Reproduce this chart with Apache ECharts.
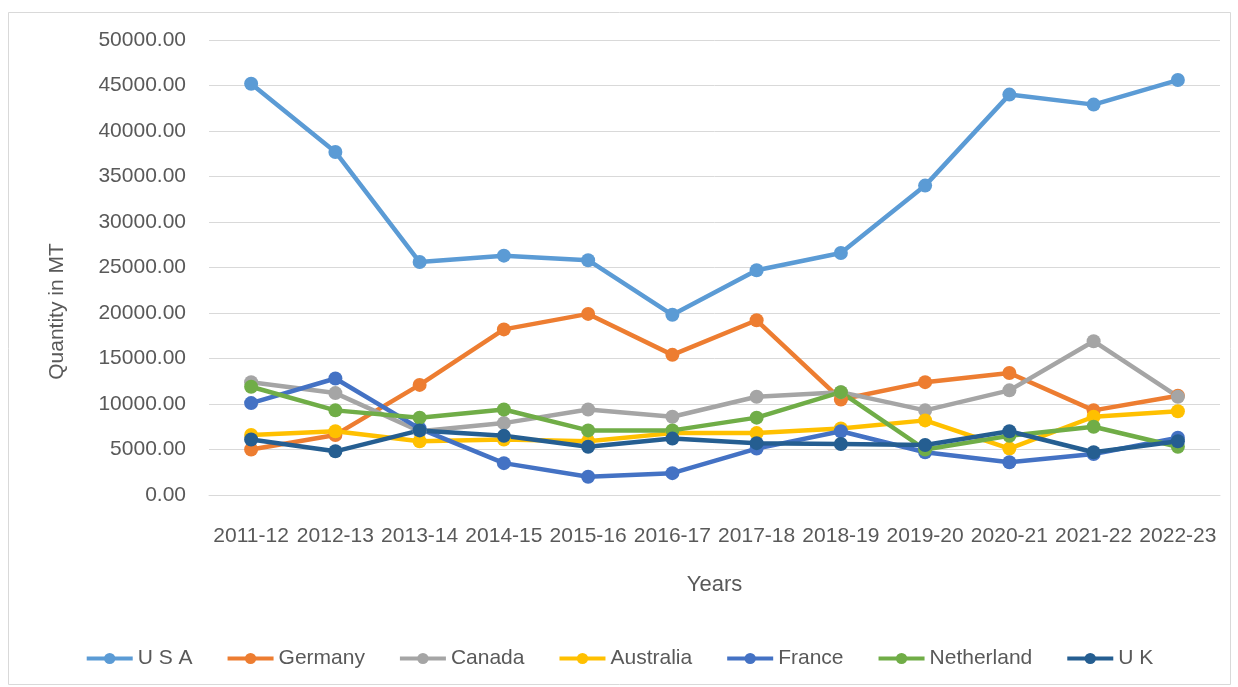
<!DOCTYPE html>
<html>
<head>
<meta charset="utf-8">
<script src="https://cdn.jsdelivr.net/npm/echarts@6/dist/echarts.min.js"></script>
<style>html,body{margin:0;padding:0;background:#fff;}#c{width:1238px;height:687px;}</style>
</head>
<body>
<div id="c"></div>
<script>
const categories = ['2011-12','2012-13','2013-14','2014-15','2015-16','2016-17','2017-18','2018-19','2019-20','2020-21','2021-22','2022-23'];
const usa        = [45200, 37700, 25600, 26300, 25800, 19800, 24700, 26600, 34000, 44000, 42900, 45600];
const germany    = [5000, 6600, 12100, 18200, 19900, 15400, 19200, 10500, 12400, 13400, 9300, 10900];
const canada     = [12400, 11200, 7000, 7900, 9400, 8600, 10800, 11300, 9300, 11500, 16900, 10800];
const australia  = [6600, 7000, 5900, 6100, 5900, 6800, 6800, 7300, 8200, 5100, 8600, 9200];
const france     = [10100, 12800, 7300, 3500, 2000, 2400, 5100, 7000, 4700, 3600, 4500, 6300];
const netherland = [11900, 9300, 8500, 9400, 7100, 7100, 8500, 11300, 5000, 6500, 7500, 5300];
const uk         = [6100, 4800, 7100, 6500, 5300, 6200, 5700, 5600, 5500, 7000, 4700, 5900];
const yTicks = [0, 5000, 10000, 15000, 20000, 25000, 30000, 35000, 40000, 45000, 50000];

const seriesDefs = [
  ['U S A', usa, '#5B9BD5'],
  ['Germany', germany, '#ED7D31'],
  ['Canada', canada, '#A5A5A5'],
  ['Australia', australia, '#FFC000'],
  ['France', france, '#4472C4'],
  ['Netherland', netherland, '#70AD47'],
  ['U K', uk, '#255E91']
];
const font = 'Liberation Sans';
const txt = '#595959';
const chart = echarts.init(document.getElementById('c'), null, {renderer: 'canvas'});
chart.setOption({
  animation: false,
  backgroundColor: '#fff',
  graphic: [{type: 'rect', shape: {x: 8.5, y: 12.5, width: 1222, height: 672}, style: {fill: 'none', stroke: '#d9d9d9', lineWidth: 1}, silent: true, z: -1}],
  grid: {left: 209, right: 18, top: 40, bottom: 192},
  legend: {
    bottom: 13, left: 'center', itemWidth: 46, itemHeight: 14, itemGap: 33,
    lineStyle: {width: 4},
    textStyle: {fontFamily: font, fontSize: 21, color: txt},
    data: seriesDefs.map(s => s[0])
  },
  xAxis: {
    type: 'category', data: categories, boundaryGap: true,
    name: 'Years', nameLocation: 'middle', nameGap: 79,
    nameTextStyle: {fontFamily: font, fontSize: 22, color: txt},
    axisLine: {show: true, lineStyle: {color: '#d9d9d9', width: 1}},
    axisTick: {show: false},
    axisLabel: {fontFamily: font, fontSize: 21, color: txt, margin: 31, interval: 0}
  },
  yAxis: {
    type: 'value', min: yTicks[0], max: yTicks[yTicks.length - 1], interval: yTicks[1] - yTicks[0],
    name: 'Quantity in MT', nameLocation: 'middle', nameGap: 141,
    nameTextStyle: {fontFamily: font, fontSize: 21, color: txt, padding: [0, 88, 0, 0]},
    axisLine: {show: false}, axisTick: {show: false},
    axisLabel: {fontFamily: font, fontSize: 21, color: txt, margin: 23, formatter: v => v.toFixed(2)},
    splitLine: {lineStyle: {color: '#d9d9d9', width: 1}}
  },
  series: seriesDefs.map(([name, data, color]) => ({
    name, type: 'line', data,
    symbol: 'circle', symbolSize: 14,
    itemStyle: {color},
    lineStyle: {color, width: 4.5}
  }))
});
</script>
</body>
</html>
